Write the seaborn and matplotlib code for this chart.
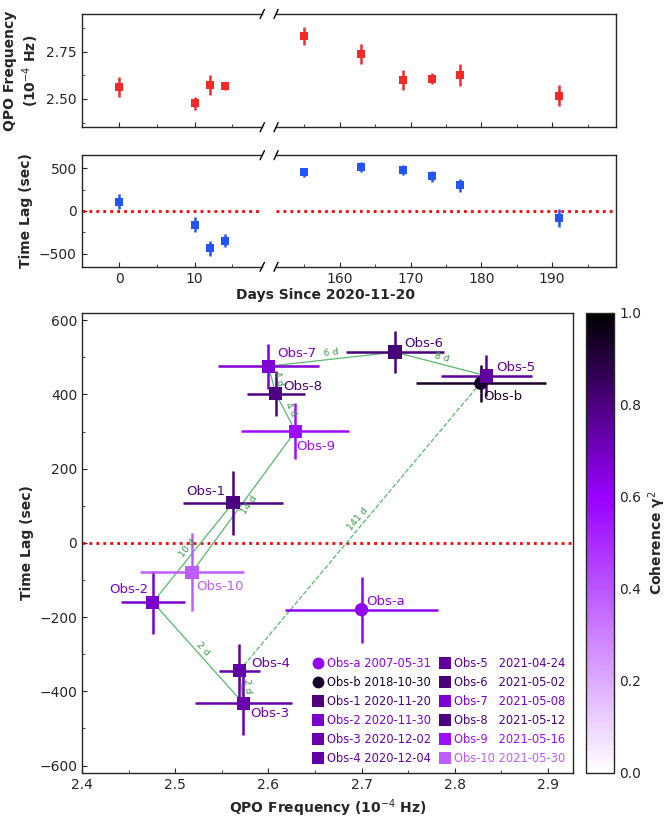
import numpy as np
import pandas as pd
import seaborn as sns
import matplotlib.pyplot as plt
from matplotlib.colors import LinearSegmentedColormap, Normalize
from matplotlib.lines import Line2D
from matplotlib.ticker import MultipleLocator

# Data
names = ["Obs-a", "Obs-b", "Obs-1", "Obs-2", "Obs-3", "Obs-4", "Obs-5",
         "Obs-6", "Obs-7", "Obs-8", "Obs-9", "Obs-10"]
dates = ["2007-05-31", "2018-10-30", "2020-11-20", "2020-11-30", "2020-12-02",
         "2020-12-04", "2021-04-24", "2021-05-02", "2021-05-08", "2021-05-12",
         "2021-05-16", "2021-05-30"]
freq = [2.700, 2.828, 2.562, 2.476, 2.573, 2.569, 2.834, 2.736, 2.600, 2.608, 2.629, 2.518]
freq_err = [0.082, 0.070, 0.054, 0.034, 0.052, 0.022, 0.049, 0.053, 0.054, 0.031, 0.058, 0.056]
lag = [-180, 430, 108, -160, -432, -344, 450, 514, 476, 402, 301, -79]
lag_err = [89, 50, 87, 85, 87, 72, 55, 57, 60, 60, 75, 105]
coherence = [0.62, 0.93, 0.80, 0.68, 0.73, 0.74, 0.75, 0.81, 0.67, 0.80, 0.57, 0.38]
# days since 2020-11-20 for Obs-1 ... Obs-10
days = [0, 10, 12, 14, 155, 163, 169, 173, 177, 191]

df = pd.DataFrame({"name": names, "date": dates, "freq": freq, "freq_err": freq_err,
                   "lag": lag, "lag_err": lag_err, "coh": coherence})
mon = df.iloc[2:].copy()
mon["day"] = days

sns.set_style("ticks")
plt.rcParams["font.family"] = ["DejaVu Sans"]
plt.rcParams["xtick.direction"] = "in"
plt.rcParams["ytick.direction"] = "in"
plt.rcParams["xtick.labelsize"] = 10
plt.rcParams["ytick.labelsize"] = 10
plt.rcParams["axes.linewidth"] = 1.0

cmap = LinearSegmentedColormap.from_list("coh", [(0, "white"), (0.6, "#9900ff"), (1, "black")])
norm = Normalize(0, 1)
colors = [cmap(norm(c)) for c in coherence]

fig = plt.figure(figsize=(6.69, 8.21), dpi=100)

# --- top two broken-axis panels ---
ax_fl = fig.add_axes([0.122, 0.845, 0.270, 0.138])
ax_fr = fig.add_axes([0.4126, 0.845, 0.508, 0.138])
ax_ll = fig.add_axes([0.122, 0.675, 0.270, 0.136])
ax_lr = fig.add_axes([0.4126, 0.675, 0.508, 0.136])

early = mon[mon["day"] < 100]
late = mon[mon["day"] > 100]

panels = [(ax_fl, ax_fr, "freq", "freq_err", "#f22a2a"),
          (ax_ll, ax_lr, "lag", "lag_err", "#2354f5")]
for axl, axr, col, err, color in panels:
    for a, sub in ((axl, early), (axr, late)):
        a.errorbar(sub["day"], sub[col], yerr=sub[err], fmt="none",
                   ecolor=color, elinewidth=1.8, capsize=0, zorder=2)
        sns.scatterplot(data=sub, x="day", y=col, marker="s", s=26, color=color,
                        edgecolor=color, linewidth=0, ax=a, zorder=3, legend=False)
        a.set_xlabel("")
        a.set_ylabel("")
    axl.set_xlim(-5, 19)
    axr.set_xlim(151, 199)
    axl.xaxis.set_major_locator(MultipleLocator(10))
    axl.xaxis.set_minor_locator(MultipleLocator(5))
    axr.xaxis.set_major_locator(MultipleLocator(10))
    axr.xaxis.set_minor_locator(MultipleLocator(5))
    axl.spines["right"].set_visible(False)
    axr.spines["left"].set_visible(False)
    axr.tick_params(axis="y", which="both", left=False, labelleft=False)
    for a in (axl, axr):
        a.tick_params(which="both", direction="in", top=False, right=False)
    # break marks
    d = 0.02
    kw = dict(color="k", lw=1.0, clip_on=False)
    for yy in (0, 1):
        axl.plot((1 - d * 0.6, 1 + d * 0.6), (yy - d * 2, yy + d * 2), transform=axl.transAxes, **kw)
        axr.plot((-d * 0.3, d * 0.3), (yy - d * 2, yy + d * 2), transform=axr.transAxes, **kw)

for a in (ax_fl, ax_fr):
    a.set_ylim(2.35, 2.95)
    a.yaxis.set_major_locator(MultipleLocator(0.25))
    a.yaxis.set_minor_locator(MultipleLocator(0.125))
    a.tick_params(labelbottom=False)
for a in (ax_ll, ax_lr):
    a.set_ylim(-650, 650)
    a.yaxis.set_major_locator(MultipleLocator(500))
    a.yaxis.set_minor_locator(MultipleLocator(250))
    a.axhline(0, color="red", ls=(0, (1, 1.5)), lw=2, zorder=1)

ax_fl.set_ylabel("QPO Frequency\n(10$^{-4}$ Hz)", fontweight="bold", fontsize=10)
ax_ll.set_ylabel("Time Lag (sec)", fontweight="bold", fontsize=10)
fig.text(0.487, 0.6407, "Days Since 2020-11-20", ha="center", va="center",
         fontweight="bold", fontsize=10)

# --- bottom panel ---
ax = fig.add_axes([0.1226, 0.0585, 0.734, 0.5605])
cax = fig.add_axes([0.876, 0.0585, 0.042, 0.5605])

ax.set_xlim(2.4, 2.927)
ax.set_ylim(-620, 620)
ax.xaxis.set_major_locator(MultipleLocator(0.1))
ax.xaxis.set_minor_locator(MultipleLocator(0.05))
ax.yaxis.set_major_locator(MultipleLocator(200))
ax.yaxis.set_minor_locator(MultipleLocator(100))
ax.tick_params(which="both", direction="in", top=False, right=False)
ax.axhline(0, color="red", ls=(0, (1, 1.5)), lw=2, zorder=1)

# time-ordered connecting lines with day gaps
seg_side = [1, 1, 1, 1, 1, 1, 1, 1, -1]
mf = mon["freq"].to_numpy()
ml = mon["lag"].to_numpy()
for i in range(len(days) - 1):
    ls = "--" if i == 3 else "-"
    ax.plot(mf[i:i + 2], ml[i:i + 2], color="#55bb6a", lw=0.9, ls=ls, zorder=1.5)

for i, row in df.iterrows():
    ax.errorbar(row["freq"], row["lag"], xerr=row["freq_err"], yerr=row["lag_err"],
                fmt="none", ecolor=colors[i], elinewidth=1.8, capsize=0, zorder=2)

df["shape"] = ["circle", "circle"] + ["square"] * 10
palette = dict(zip(names, colors))
sns.scatterplot(data=df, x="freq", y="lag", hue="name", palette=palette, style="shape",
                markers={"circle": "o", "square": "s"}, s=92, linewidth=0,
                ax=ax, zorder=3, legend=False)

label_offsets = {
    "Obs-a": (0.005, 21, "left"), "Obs-b": (0.003, -35, "left"),
    "Obs-1": (-0.008, 30, "right"), "Obs-2": (-0.005, 34, "right"),
    "Obs-3": (0.008, -27, "left"), "Obs-4": (0.013, 20, "left"),
    "Obs-5": (0.011, 23, "left"), "Obs-6": (0.010, 22, "left"),
    "Obs-7": (0.009, 34, "left"), "Obs-8": (0.008, 20, "left"),
    "Obs-9": (0.001, -40, "left"), "Obs-10": (0.005, -38, "left"),
}
for i, row in df.iterrows():
    dx, dy, ha = label_offsets[row["name"]]
    ax.text(row["freq"] + dx, row["lag"] + dy, row["name"], color=colors[i],
            fontsize=9.5, ha=ha, va="center", zorder=4)

for i in range(len(days) - 1):
    p1 = ax.transData.transform((mf[i], ml[i]))
    p2 = ax.transData.transform((mf[i + 1], ml[i + 1]))
    ang = np.degrees(np.arctan2(p2[1] - p1[1], p2[0] - p1[0]))
    if ang > 90:
        ang -= 180
    elif ang < -90:
        ang += 180
    t = np.radians(ang)
    off = 4.5 * seg_side[i]
    ax.annotate(f"{days[i + 1] - days[i]} d",
                xy=((mf[i] + mf[i + 1]) / 2, (ml[i] + ml[i + 1]) / 2),
                xytext=(-np.sin(t) * off, np.cos(t) * off), textcoords="offset points",
                rotation=ang, rotation_mode="anchor", ha="center", va="center",
                fontsize=6.8, color="#3a9a4a", zorder=4)

ax.set_xlabel("QPO Frequency (10$^{-4}$ Hz)", fontweight="bold", fontsize=10)
ax.set_ylabel("Time Lag (sec)", fontweight="bold", fontsize=10)

# legend
handles = [Line2D([], [], marker=("o" if s == "circle" else "s"), ls="", color=c,
                  markersize=8.5, markeredgewidth=0) for s, c in zip(df["shape"], colors)]
labels = []
for n, dt in zip(names, dates):
    if n in ("Obs-5", "Obs-6", "Obs-7", "Obs-8", "Obs-9"):
        labels.append(f"{n}   {dt}")
    else:
        labels.append(f"{n} {dt}")
leg = ax.legend(handles, labels, ncol=2, loc="lower right", frameon=False, fontsize=8.3,
                handlelength=0.8, handletextpad=0.35, columnspacing=0.8,
                labelspacing=0.52, borderaxespad=0.3)
for txt, c in zip(leg.get_texts(), colors):
    txt.set_color(c)

# colorbar
sm = plt.cm.ScalarMappable(cmap=cmap, norm=norm)
cb = fig.colorbar(sm, cax=cax)
cb.set_label("Coherence γ$^2$", fontweight="bold", fontsize=10)
cb.ax.yaxis.set_major_locator(MultipleLocator(0.2))
cb.ax.yaxis.set_minor_locator(MultipleLocator(0.1))
cb.ax.tick_params(which="both", direction="in")
cb.outline.set_linewidth(1.0)

fig.savefig("out.png", dpi=100)
